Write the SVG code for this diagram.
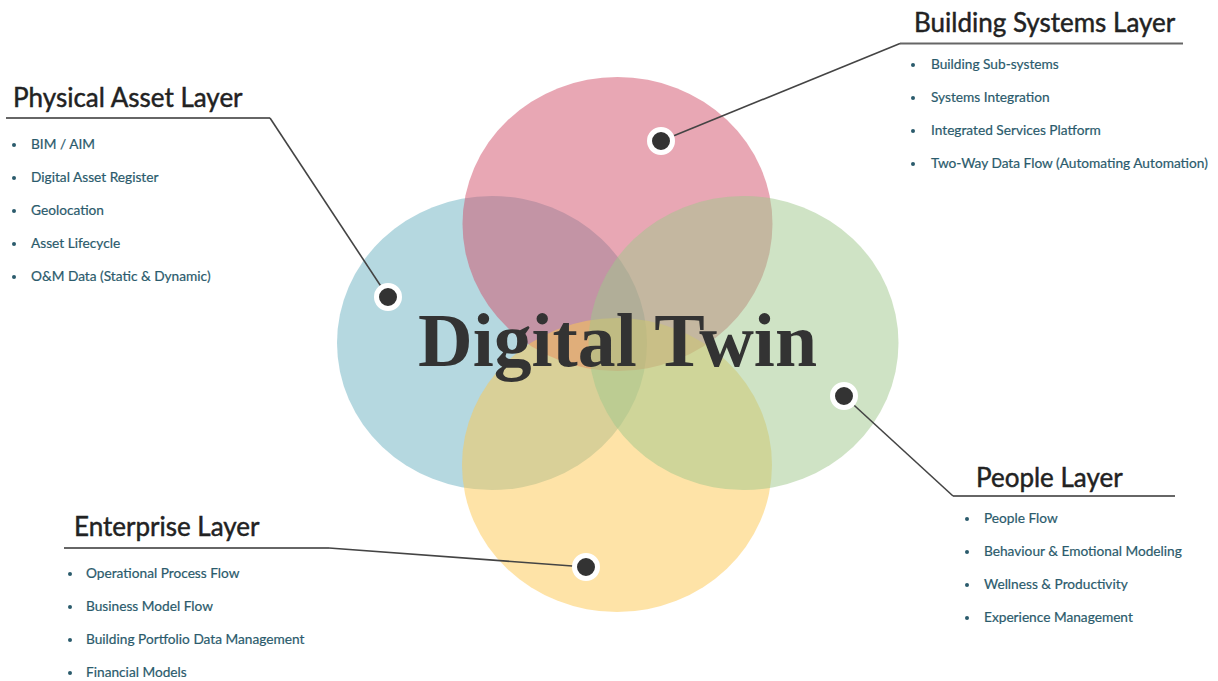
<svg xmlns="http://www.w3.org/2000/svg" width="1218" height="681" viewBox="0 0 1218 681">
<style>
.bg{fill:#ffffff}
.venn{opacity:0.5}
.title{font-family:Lato,"Liberation Sans",sans-serif;font-size:26px;fill:#222222;stroke:#222222;stroke-width:0.45}
.item{font-family:Lato,"Liberation Sans",sans-serif;font-size:13.7px;fill:#2b5b6c;stroke:#2b5b6c;stroke-width:0.2}
.bul{fill:#2b5b6c}
.under{stroke:#666666;stroke-width:2;fill:none}
.conn{stroke:#444444;stroke-width:1.6;fill:none}
.dot{fill:#333333;stroke:#ffffff;stroke-width:5}
.big{font-family:"Liberation Serif","DejaVu Serif",serif;font-weight:bold;font-size:76px;fill:#333333}
</style>
<rect class="bg" x="0" y="0" width="1218" height="681"/>
<g id="venn">
<ellipse class="venn" cx="492" cy="343" rx="155" ry="147" fill="#6bb1c1"/>
<ellipse class="venn" cx="617.5" cy="224" rx="155" ry="147" fill="#d14f69"/>
<ellipse class="venn" cx="617" cy="465" rx="155" ry="147" fill="#fdc74f"/>
<ellipse class="venn" cx="743.5" cy="343" rx="155" ry="147" fill="#9fc78b"/>
</g>
<g id="center">
<text class="big" x="418" y="366" textLength="399" lengthAdjust="spacingAndGlyphs">Digital Twin</text>
</g>
<g id="connectors">
<path class="under" d="M6 118 H270"/>
<path class="conn" d="M270 118 L388 297"/>
<path class="under" d="M900 43.5 H1183"/>
<path class="conn" d="M900 43.5 L661 141"/>
<path class="under" d="M953 496 H1175"/>
<path class="conn" d="M953 496 L844 396"/>
<path class="under" d="M64 548 H329"/>
<path class="conn" d="M329 548 L586 567"/>
</g>
<g id="physical-asset-layer">
<circle class="dot" cx="388" cy="297" r="11.5"/>
<text class="title" x="13" y="107">Physical Asset Layer</text>
<circle class="bul" cx="14" cy="145" r="2"/><text class="item" x="31" y="149">BIM / AIM</text>
<circle class="bul" cx="14" cy="178" r="2"/><text class="item" x="31" y="182">Digital Asset Register</text>
<circle class="bul" cx="14" cy="211" r="2"/><text class="item" x="31" y="215">Geolocation</text>
<circle class="bul" cx="14" cy="244" r="2"/><text class="item" x="31" y="248">Asset Lifecycle</text>
<circle class="bul" cx="14" cy="277" r="2"/><text class="item" x="31" y="281">O&amp;M Data (Static &amp; Dynamic)</text>
</g>
<g id="building-systems-layer">
<circle class="dot" cx="661" cy="141" r="11.5"/>
<text class="title" x="914" y="32">Building Systems Layer</text>
<circle class="bul" cx="913" cy="65" r="2"/><text class="item" x="931" y="69">Building Sub-systems</text>
<circle class="bul" cx="913" cy="98" r="2"/><text class="item" x="931" y="102">Systems Integration</text>
<circle class="bul" cx="913" cy="131" r="2"/><text class="item" x="931" y="135">Integrated Services Platform</text>
<circle class="bul" cx="913" cy="164" r="2"/><text class="item" x="931" y="168">Two-Way Data Flow (Automating Automation)</text>
</g>
<g id="people-layer">
<circle class="dot" cx="844" cy="396" r="11.5"/>
<text class="title" x="976" y="487">People Layer</text>
<circle class="bul" cx="967" cy="519" r="2"/><text class="item" x="984" y="523">People Flow</text>
<circle class="bul" cx="967" cy="552" r="2"/><text class="item" x="984" y="556">Behaviour &amp; Emotional Modeling</text>
<circle class="bul" cx="967" cy="585" r="2"/><text class="item" x="984" y="589">Wellness &amp; Productivity</text>
<circle class="bul" cx="967" cy="618" r="2"/><text class="item" x="984" y="622">Experience Management</text>
</g>
<g id="enterprise-layer">
<circle class="dot" cx="586" cy="567" r="11.5"/>
<text class="title" x="74" y="536">Enterprise Layer</text>
<circle class="bul" cx="70" cy="574" r="2"/><text class="item" x="86" y="578">Operational Process Flow</text>
<circle class="bul" cx="70" cy="607" r="2"/><text class="item" x="86" y="611">Business Model Flow</text>
<circle class="bul" cx="70" cy="640" r="2"/><text class="item" x="86" y="644">Building Portfolio Data Management</text>
<circle class="bul" cx="70" cy="673" r="2"/><text class="item" x="86" y="677">Financial Models</text>
</g>
</svg>
